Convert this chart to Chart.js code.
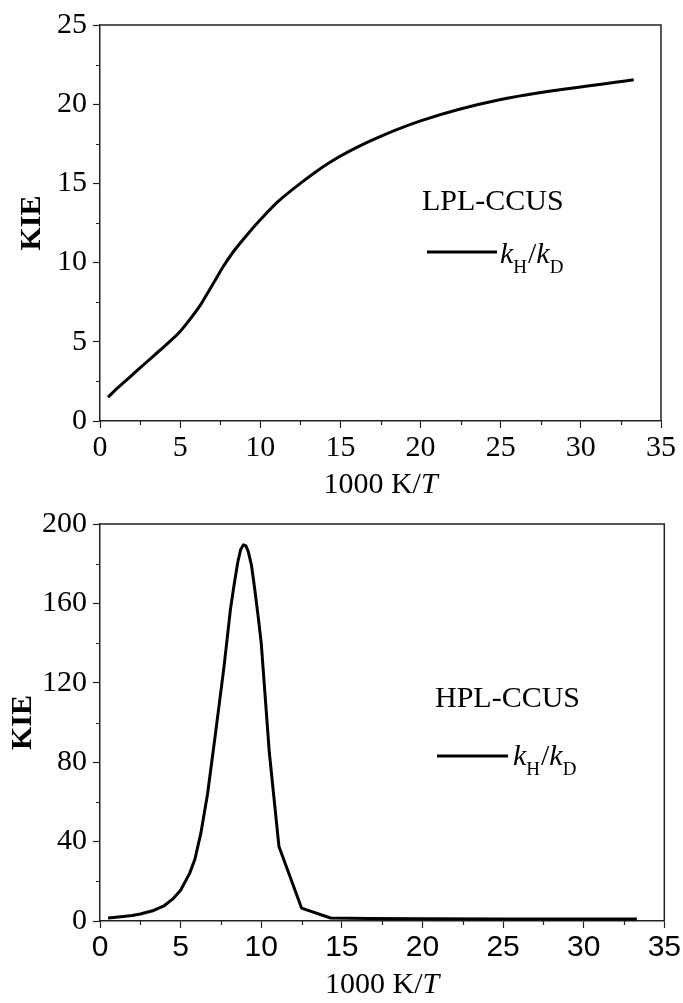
<!DOCTYPE html>
<html>
<head>
<meta charset="utf-8">
<script src="https://cdn.jsdelivr.net/npm/chart.js@4.4.1/dist/chart.umd.min.js"></script>
<style>
  html, body { margin: 0; padding: 0; background: #fff; }
  .box { position: absolute; left: 0; width: 683px; }
  #top { top: 0; height: 500px; }
  #bottom { top: 500px; height: 503px; }
</style>
</head>
<body>
<div class="box" id="top"><canvas id="lplChart"></canvas></div>
<div class="box" id="bottom"><canvas id="hplChart"></canvas></div>
<script>
// ----- DATA -----

const lplX = [0.5, 1, 2, 2.5, 3.33, 4, 5, 5.56, 6.25, 6.67, 7.14, 7.69, 8.33, 9.09, 10, 11.1, 12.5, 14.3, 16.7, 20, 25, 33.3];
const lplKie = [1.5, 2.0, 2.9, 3.35, 4.1, 4.7, 5.65, 6.35, 7.3, 8.0, 8.8, 9.75, 10.7, 11.65, 12.7, 13.85, 15.0, 16.3, 17.6, 18.95, 20.3, 21.55];

const hplX = [0.5, 1, 2, 2.5, 3.33, 4, 4.5, 5, 5.56, 5.88, 6.25, 6.67, 7.14, 7.69, 8.09, 8.33, 8.55, 8.72, 8.9, 9.05, 9.2, 9.4, 9.6, 9.8, 10, 10.5, 11.1, 12.5, 14.3, 16.7, 20, 25, 33.3];
const hplKie = [1.5, 1.9, 2.8, 3.5, 5.3, 7.8, 11, 15.5, 24, 31, 44, 64, 93, 128, 157, 170, 181, 187, 189.5, 189, 186, 179, 167, 154, 140, 85, 37.5, 6.5, 1.5, 1.2, 1.1, 1.0, 1.0];

const xTicks = [0, 5, 10, 15, 20, 25, 30, 35];
const lplYTicks = [0, 5, 10, 15, 20, 25];
const hplYTicks = [0, 40, 80, 120, 160, 200];

// ----- STYLE -----

const SERIF = "'Liberation Serif', 'Times New Roman', serif";
const SANS = "'Liberation Sans', Arial, sans-serif";
Chart.defaults.font.family = SERIF;
Chart.defaults.color = "#000";

// draws pieces of text one after another on the same baseline
function drawRuns(ctx, x, y, runs) {
  ctx.textAlign = "left";
  ctx.textBaseline = "alphabetic";
  runs.forEach((r) => {
    ctx.font = r.font;
    ctx.fillText(r.text, x, y + (r.dy || 0));
    x += ctx.measureText(r.text).width + (r.gap || 0);
  });
}

function runsWidth(ctx, runs) {
  let w = 0;
  runs.forEach((r) => {
    ctx.font = r.font;
    w += ctx.measureText(r.text).width + (r.gap || 0);
  });
  return w;
}

const decor = {
  id: "decor",
  afterDraw(chart, args, opts) {
    const { ctx, chartArea: a, scales } = chart;
    const x = scales.x;
    const y = scales.y;
    ctx.save();

    // top + right frame
    ctx.strokeStyle = "#222";
    ctx.lineWidth = 1.5;
    ctx.beginPath();
    ctx.moveTo(a.left, a.top);
    ctx.lineTo(a.right, a.top);
    ctx.lineTo(a.right, a.bottom);
    ctx.stroke();

    // minor ticks halfway between the majors
    ctx.lineWidth = 1.2;
    ctx.beginPath();
    const xv = x.ticks.map((t) => t.value);
    for (let i = 0; i < xv.length - 1; i++) {
      const px = Math.round(x.getPixelForValue((xv[i] + xv[i + 1]) / 2)) + 0.5;
      ctx.moveTo(px, a.bottom);
      ctx.lineTo(px, a.bottom + 4);
    }
    const yv = y.ticks.map((t) => t.value);
    for (let i = 0; i < yv.length - 1; i++) {
      const py = Math.round(y.getPixelForValue((yv[i] + yv[i + 1]) / 2)) + 0.5;
      ctx.moveTo(a.left - 4, py);
      ctx.lineTo(a.left, py);
    }
    ctx.stroke();

    ctx.fillStyle = "#000";

    // x axis title: 1000 K/T
    const titleRuns = [
      { text: "1000 K/", font: "30px " + SERIF },
      { text: "T", font: "italic 30px " + SERIF },
    ];
    const tw = runsWidth(ctx, titleRuns);
    drawRuns(ctx, (a.left + a.right) / 2 - tw / 2, opts.titleY, titleRuns);

    // annotation + legend
    ctx.font = "30px " + SERIF;
    ctx.fillText(opts.label, opts.labelX, opts.labelY);

    const ds = chart.data.datasets[0];
    ctx.strokeStyle = ds.borderColor;
    ctx.lineWidth = ds.borderWidth;
    ctx.beginPath();
    ctx.moveTo(opts.lineX0, opts.lineY);
    ctx.lineTo(opts.lineX1, opts.lineY);
    ctx.stroke();

    drawRuns(ctx, opts.keyX, opts.keyY, [
      { text: "k", font: "italic 30px " + SERIF },
      { text: "H", font: "19px " + SERIF, dy: 10, gap: 1 },
      { text: "/", font: "30px " + SERIF },
      { text: "k", font: "italic 30px " + SERIF },
      { text: "D", font: "19px " + SERIF, dy: 10 },
    ]);

    ctx.restore();
  },
};

// ----- CHART BUILDER -----

function makeChart(canvasId, xs, ys, yTicks, cfg) {
  const points = xs.map((v, i) => ({ x: v, y: ys[i] }));
  return new Chart(document.getElementById(canvasId), {
    type: "line",
    data: {
      datasets: [
        {
          label: "kH/kD",
          data: points,
          borderColor: "#000",
          borderWidth: 3,
          borderJoinStyle: "round",
          pointRadius: 0,
          cubicInterpolationMode: cfg.interp,
          tension: 0,
          fill: false,
        },
      ],
    },
    options: {
      responsive: true,
      maintainAspectRatio: false,
      animation: false,
      layout: { padding: { top: cfg.padTop, right: cfg.padRight, left: 0, bottom: 0 } },
      plugins: {
        legend: { display: false },
        tooltip: { enabled: false },
        decor: cfg.decor,
      },
      scales: {
        x: {
          type: "linear",
          min: 0,
          max: 35,
          afterBuildTicks: (s) => { s.ticks = xTicks.map((v) => ({ value: v })); },
          afterFit: (s) => { s.height = cfg.xHeight; },
          grid: { drawOnChartArea: false, color: "#222", tickLength: 7, tickWidth: 1.2 },
          border: { color: "#222", width: 1.5 },
          ticks: {
            font: { size: 30, family: cfg.xFont, lineHeight: 1.2 },
            padding: 2,
            maxRotation: 0,
          },
        },
        y: {
          type: "linear",
          min: yTicks[0],
          max: yTicks[yTicks.length - 1],
          afterBuildTicks: (s) => { s.ticks = yTicks.map((v) => ({ value: v })); },
          afterFit: (s) => { s.width = 100; },
          grid: { drawOnChartArea: false, color: "#222", tickLength: 7, tickWidth: 1.2 },
          border: { color: "#222", width: 1.5 },
          ticks: { font: { size: 30 }, padding: 6 },
          title: {
            display: true,
            text: "KIE",
            font: { size: 30, weight: "bold", lineHeight: 1 },
            padding: { top: cfg.yTitlePad, bottom: 0 },
          },
        },
      },
    },
    plugins: [decor],
  });
}

makeChart("lplChart", lplX, lplKie, lplYTicks, {
  padTop: 25,
  padRight: 22,
  xHeight: 79,
  xFont: SERIF,
  yTitlePad: 17,
  interp: "monotone",
  decor: {
    titleY: 493,
    label: "LPL-CCUS",
    labelX: 422,
    labelY: 210,
    lineX0: 427,
    lineX1: 497,
    lineY: 252,
    keyX: 500,
    keyY: 263,
  },
});

makeChart("hplChart", hplX, hplKie, hplYTicks, {
  padTop: 24,
  padRight: 18,
  xHeight: 82,
  xFont: SANS,
  yTitlePad: 8,
  interp: "default",
  decor: {
    titleY: 493,
    label: "HPL-CCUS",
    labelX: 435,
    labelY: 207,
    lineX0: 437,
    lineX1: 508,
    lineY: 256,
    keyX: 513,
    keyY: 265,
  },
});
</script>
</body>
</html>
